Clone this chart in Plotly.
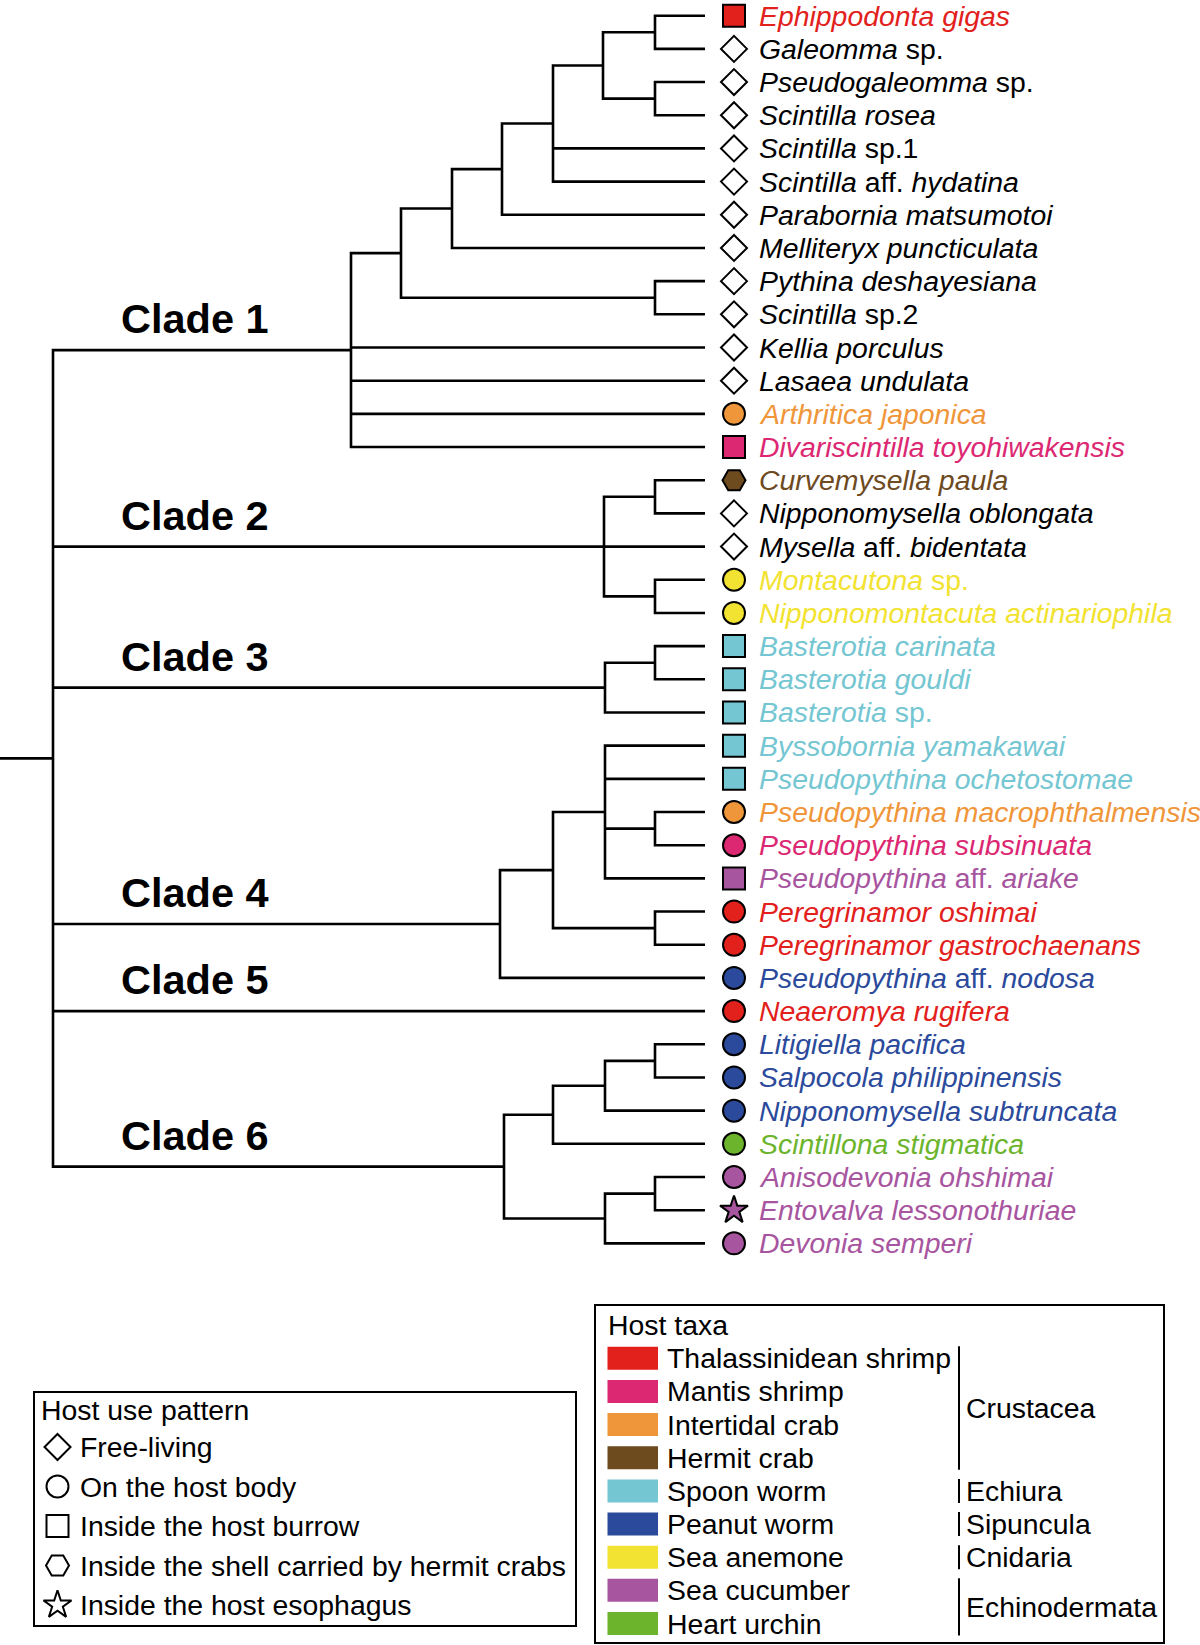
import plotly.graph_objects as go

# ---------------- data ----------------
leaf_labels = [
    "<i>Ephippodonta gigas</i>",
    "<i>Galeomma</i> sp.",
    "<i>Pseudogaleomma</i> sp.",
    "<i>Scintilla rosea</i>",
    "<i>Scintilla</i> sp.1",
    "<i>Scintilla</i> aff. <i>hydatina</i>",
    "<i>Parabornia matsumotoi</i>",
    "<i>Melliteryx puncticulata</i>",
    "<i>Pythina deshayesiana</i>",
    "<i>Scintilla</i> sp.2",
    "<i>Kellia porculus</i>",
    "<i>Lasaea undulata</i>",
    "<i>Arthritica japonica</i>",
    "<i>Divariscintilla toyohiwakensis</i>",
    "<i>Curvemysella paula</i>",
    "<i>Nipponomysella oblongata</i>",
    "<i>Mysella</i> aff. <i>bidentata</i>",
    "<i>Montacutona</i> sp.",
    "<i>Nipponomontacuta actinariophila</i>",
    "<i>Basterotia carinata</i>",
    "<i>Basterotia gouldi</i>",
    "<i>Basterotia</i> sp.",
    "<i>Byssobornia yamakawai</i>",
    "<i>Pseudopythina ochetostomae</i>",
    "<i>Pseudopythina macrophthalmensis</i>",
    "<i>Pseudopythina subsinuata</i>",
    "<i>Pseudopythina</i> aff. <i>ariake</i>",
    "<i>Peregrinamor oshimai</i>",
    "<i>Peregrinamor gastrochaenans</i>",
    "<i>Pseudopythina</i> aff. <i>nodosa</i>",
    "<i>Neaeromya rugifera</i>",
    "<i>Litigiella pacifica</i>",
    "<i>Salpocola philippinensis</i>",
    "<i>Nipponomysella subtruncata</i>",
    "<i>Scintillona stigmatica</i>",
    "<i>Anisodevonia ohshimai</i>",
    "<i>Entovalva lessonothuriae</i>",
    "<i>Devonia semperi</i>",
]

leaf_pattern = [
    "burrow", "free", "free", "free", "free", "free", "free", "free", "free", "free",
    "free", "free", "body", "burrow", "shell", "free", "free", "body", "body", "burrow",
    "burrow", "burrow", "burrow", "burrow", "body", "body", "burrow", "body", "body", "body",
    "body", "body", "body", "body", "body", "body", "esophagus", "body",
]

leaf_host = [
    "Thalassinidean shrimp", None, None, None, None, None, None, None, None, None,
    None, None, "Intertidal crab", "Mantis shrimp", "Hermit crab", None, None, "Sea anemone", "Sea anemone", "Spoon worm",
    "Spoon worm", "Spoon worm", "Spoon worm", "Spoon worm", "Intertidal crab", "Mantis shrimp", "Sea cucumber",
    "Thalassinidean shrimp", "Thalassinidean shrimp", "Peanut worm",
    "Thalassinidean shrimp", "Peanut worm", "Peanut worm", "Peanut worm", "Heart urchin", "Sea cucumber", "Sea cucumber", "Sea cucumber",
]

# internal nodes: (id, depth, children); int child = leaf index
tree_nodes = [
    ("n_eph", 655, [0, 1]),
    ("n_psg", 655, [2, 3]),
    ("n_a", 603, ["n_eph", "n_psg"]),
    ("n_b", 553, ["n_a", 4, 5]),
    ("n_c", 502, ["n_b", 6]),
    ("n_d", 452, ["n_c", 7]),
    ("n_pyt", 655, [8, 9]),
    ("n_e", 401, ["n_d", "n_pyt"]),
    ("clade1", 351, ["n_e", 10, 11, 12, 13]),
    ("n_cur", 655, [14, 15]),
    ("n_mon", 655, [17, 18]),
    ("clade2", 604, ["n_cur", 16, "n_mon"]),
    ("n_bas", 655, [19, 20]),
    ("clade3", 605, ["n_bas", 21]),
    ("n_mac", 655, [24, 25]),
    ("n_f", 605, [22, 23, "n_mac", 26]),
    ("n_per", 655, [27, 28]),
    ("n_g", 553, ["n_f", "n_per"]),
    ("clade4", 500, ["n_g", 29]),
    ("n_lit", 655, [31, 32]),
    ("n_h", 605, ["n_lit", 33]),
    ("n_i", 553, ["n_h", 34]),
    ("n_ani", 655, [35, 36]),
    ("n_j", 605, ["n_ani", 37]),
    ("clade6", 504, ["n_i", "n_j"]),
    ("root", 53, ["clade1", "clade2", "clade3", "clade4", 30, "clade6"]),
]
tip_depth = 705
root_stub_depth = 0

clade_names = ["Clade 1", "Clade 2", "Clade 3", "Clade 4", "Clade 5", "Clade 6"]
clade_nodes = ["clade1", "clade2", "clade3", "clade4", 30, "clade6"]

pattern_names = ["free", "body", "burrow", "shell", "esophagus"]
pattern_labels = ["Free-living", "On the host body", "Inside the host burrow",
                  "Inside the shell carried by hermit crabs", "Inside the host esophagus"]

host_taxa = ["Thalassinidean shrimp", "Mantis shrimp", "Intertidal crab", "Hermit crab",
             "Spoon worm", "Peanut worm", "Sea anemone", "Sea cucumber", "Heart urchin"]
host_groups = ["Crustacea", "Echiura", "Sipuncula", "Cnidaria", "Echinodermata"]
host_group_first = [0, 4, 5, 6, 7]
host_group_last = [3, 4, 5, 6, 8]

# ---------------- styles ----------------
host_colors = {
    "Thalassinidean shrimp": "#E2211C",
    "Mantis shrimp": "#DC2872",
    "Intertidal crab": "#F0963A",
    "Hermit crab": "#6E4A1F",
    "Spoon worm": "#74C6D2",
    "Peanut worm": "#2B4A9B",
    "Sea anemone": "#F2E231",
    "Sea cucumber": "#A8559F",
    "Heart urchin": "#6CB42C",
}
pattern_symbol = {"free": "diamond", "body": "circle", "burrow": "square",
                  "shell": "hexagon2", "esophagus": "star"}
pattern_size = {"free": 20, "body": 22, "burrow": 22, "shell": 23, "esophagus": 21}
FONT = "Liberation Sans, Arial, sans-serif"
FS = 28.4

# ---------------- tree geometry ----------------
node_map = {nid: (d, ch) for nid, d, ch in tree_nodes}
ypos = {}


def node_y(c):
    if isinstance(c, int):
        return float(c)
    if c in ypos:
        return ypos[c]
    d, ch = node_map[c]
    ys = [node_y(k) for k in ch]
    ypos[c] = (ys[0] + ys[-1]) / 2.0
    return ypos[c]


def node_x(c):
    return tip_depth if isinstance(c, int) else node_map[c][0]


lx, ly = [], []
for nid, d, ch in tree_nodes:
    ys = [node_y(k) for k in ch]
    lx += [node_x(ch[0]), d, d, node_x(ch[-1]), None]
    ly += [ys[0], ys[0], ys[-1], ys[-1], None]
    for k, yk in zip(ch[1:-1], ys[1:-1]):
        lx += [d, node_x(k), None]
        ly += [yk, yk, None]
root_y = node_y("root")
lx += [root_stub_depth, node_map["root"][0], None]
ly += [root_y, root_y, None]

fig = go.Figure()
fig.add_trace(go.Scatter(x=lx, y=ly, mode="lines",
                         line=dict(color="black", width=2.6),
                         hoverinfo="skip", showlegend=False))

marker_x = 734
for p in pattern_names:
    idx = [i for i, pp in enumerate(leaf_pattern) if pp == p]
    fills = [host_colors[leaf_host[i]] if leaf_host[i] else "white" for i in idx]
    fig.add_trace(go.Scatter(
        x=[marker_x] * len(idx), y=idx, mode="markers",
        marker=dict(symbol=pattern_symbol[p], size=pattern_size[p], color=fills,
                    line=dict(color="black", width=2)),
        hoverinfo="skip", showlegend=False))

annotations = []
for i, lab in enumerate(leaf_labels):
    col = host_colors[leaf_host[i]] if leaf_host[i] else "black"
    annotations.append(dict(x=757, y=i, xref="x", yref="y", text=lab, showarrow=False,
                            xanchor="left", yanchor="middle",
                            font=dict(family=FONT, size=FS, color=col)))

for name, nd in zip(clade_names, clade_nodes):
    annotations.append(dict(x=119, y=node_y(nd) - 0.95, xref="x", yref="y",
                            text="<b>%s</b>" % name, showarrow=False,
                            xanchor="left", yanchor="middle",
                            font=dict(family=FONT, size=41.5, color="black")))

# ---------------- legends (pixel axis x2/y2) ----------------
shapes = []
shapes.append(dict(type="rect", xref="x2", yref="y2", x0=34, x1=576, y0=1392, y1=1626,
                   line=dict(color="black", width=2), fillcolor="rgba(0,0,0,0)"))
annotations.append(dict(x=39, y=1410, xref="x2", yref="y2", text="Host use pattern",
                        showarrow=False, xanchor="left", yanchor="middle",
                        font=dict(family=FONT, size=FS, color="black")))
row_y = [1447 + 39.5 * k for k in range(len(pattern_names))]
for p, lab, yy in zip(pattern_names, pattern_labels, row_y):
    fig.add_trace(go.Scatter(
        x=[57.5], y=[yy], xaxis="x2", yaxis="y2", mode="markers",
        marker=dict(symbol=pattern_symbol[p], size=pattern_size[p], color="white",
                    line=dict(color="black", width=2)),
        hoverinfo="skip", showlegend=False))
    annotations.append(dict(x=78, y=yy, xref="x2", yref="y2", text=lab, showarrow=False,
                            xanchor="left", yanchor="middle",
                            font=dict(family=FONT, size=FS, color="black")))

shapes.append(dict(type="rect", xref="x2", yref="y2", x0=595, x1=1164, y0=1305, y1=1643,
                   line=dict(color="black", width=2), fillcolor="rgba(0,0,0,0)"))
annotations.append(dict(x=606, y=1325, xref="x2", yref="y2", text="Host taxa",
                        showarrow=False, xanchor="left", yanchor="middle",
                        font=dict(family=FONT, size=FS, color="black")))
taxa_y = [1358.3 + 33.15 * k for k in range(len(host_taxa))]
for t, yy in zip(host_taxa, taxa_y):
    shapes.append(dict(type="rect", xref="x2", yref="y2", x0=607.5, x1=658,
                       y0=yy - 11.5, y1=yy + 11.5, line=dict(width=0),
                       fillcolor=host_colors[t]))
    annotations.append(dict(x=665, y=yy, xref="x2", yref="y2", text=t, showarrow=False,
                            xanchor="left", yanchor="middle",
                            font=dict(family=FONT, size=FS, color="black")))
for g, a, b in zip(host_groups, host_group_first, host_group_last):
    shapes.append(dict(type="line", xref="x2", yref="y2", x0=959, x1=959,
                       y0=taxa_y[a] - 12, y1=taxa_y[b] + 12,
                       line=dict(color="black", width=2)))
    annotations.append(dict(x=964, y=(taxa_y[a] + taxa_y[b]) / 2, xref="x2", yref="y2",
                            text=g, showarrow=False, xanchor="left", yanchor="middle",
                            font=dict(family=FONT, size=FS, color="black")))

W, H = 1200, 1645
top_px, step_px = 15.7, 33.18
fig.update_layout(
    width=W, height=H, margin=dict(l=0, r=0, t=0, b=0),
    paper_bgcolor="white", plot_bgcolor="white",
    xaxis=dict(range=[0, W], visible=False, domain=[0, 1], fixedrange=True),
    yaxis=dict(range=[(H - top_px) / step_px, -top_px / step_px], visible=False,
               domain=[0, 1], fixedrange=True),
    xaxis2=dict(range=[0, W], visible=False, overlaying="x", anchor="y2", fixedrange=True),
    yaxis2=dict(range=[H, 0], visible=False, overlaying="y", anchor="x2", fixedrange=True),
    shapes=shapes, annotations=annotations, showlegend=False,
)

fig.write_html("out.html", config={"displayModeBar": False},
               post_script="document.body.style.margin='0';document.body.style.overflow='hidden';")
